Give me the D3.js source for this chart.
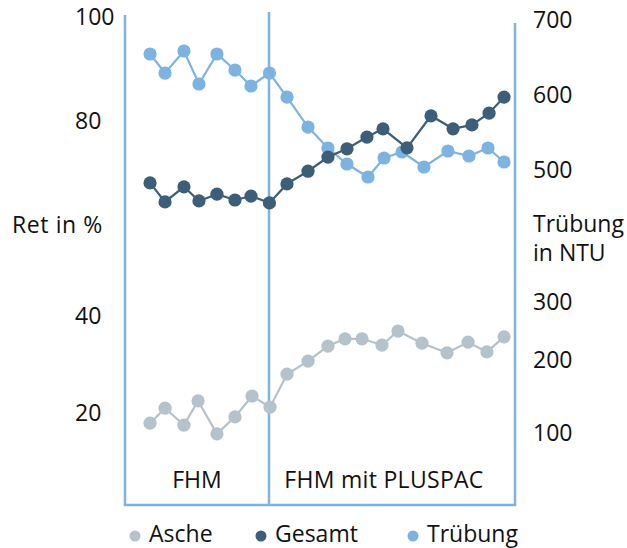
<!DOCTYPE html>
<html><head><meta charset="utf-8">
<script src="https://cdn.jsdelivr.net/npm/d3@7"></script>
<style>
html,body{margin:0;padding:0;background:#fff;}
text{font-family:"Open Sans","Noto Sans",sans-serif;fill:#111;}
</style></head>
<body>
<svg id="chart" width="627" height="548"></svg>
<script>
// ---- data ----
const seriesNames = ["Asche", "Gesamt", "Trübung"];
const phaseLabels = ["FHM", "FHM mit PLUSPAC"];
const phaseBoundary = 9.6;            // sample time where PLUSPAC starts
const leftTicks = [20, 40, 80, 100];   // Ret in %
const rightTicks = [100, 200, 300, 500, 600, 700]; // Trübung in NTU

const ascheT   = [1.67,2.67,3.93,4.87,6.13,7.33,8.47,9.67,10.8,12.2,13.53,14.67,15.8,17.13,18.2,19.8,21.47,22.87,24.13,25.27];
const ascheV   = [17.9,21.0,17.5,22.5,15.7,19.2,23.5,21.2,28.0,30.7,33.8,35.3,35.3,34.0,36.9,34.4,32.4,34.6,32.6,35.7];
const gesamtT  = [1.67,2.67,3.93,4.93,6.13,7.33,8.4,9.63,10.8,12.2,13.53,14.8,16.13,17.2,18.8,20.4,21.87,23.13,24.27,25.27];
const gesamtV  = [67.3,63.4,66.5,63.6,65.0,63.8,64.6,63.2,67.1,69.7,72.6,74.3,76.7,78.4,74.5,81.0,78.4,79.2,81.5,84.6];
const truebT   = [1.67,2.67,3.93,4.93,6.13,7.33,8.4,9.63,10.8,12.2,13.53,14.8,16.2,17.27,18.47,19.93,21.53,22.93,24.2,25.27];
const truebV   = [654.7,629.3,658.7,614.7,654.7,633.3,612.0,629.3,597.3,557.3,529.3,508.0,489.4,516.0,524.0,504.0,525.3,518.7,529.3,510.7];

const colAsche = "#b3c2cb", colGesamt = "#3c5e79", colTrueb = "#7db3e0", colFrame = "#7fb4e1";

// ---- scales ----
const svg = d3.select("#chart");
const x = d3.scaleLinear().domain([0, 26]).range([125, 515]);
const yL = d3.scaleLinear().domain([20, 40, 80, 100]).range([413, 316, 121, 17]);
const yR = d3.scaleLinear().domain([100, 200, 300, 500, 600, 700]).range([433, 360, 302, 170, 95, 20]);
const plotBottom = 505;

// ---- frame ----
const frame = svg.append("g").attr("stroke", colFrame).attr("stroke-width", 2.5).attr("fill", "none");
frame.append("line").attr("x1", x(0)).attr("x2", x(0)).attr("y1", 15).attr("y2", plotBottom);
frame.append("line").attr("x1", x(26)).attr("x2", x(26)).attr("y1", 23).attr("y2", plotBottom);
frame.append("line").attr("x1", x(0) - 1.25).attr("x2", x(26) + 1.25).attr("y1", plotBottom).attr("y2", plotBottom);
frame.append("line").attr("x1", x(phaseBoundary)).attr("x2", x(phaseBoundary)).attr("y1", 12).attr("y2", plotBottom);

// ---- axes ----
const axL = svg.append("g").attr("transform", "translate(75,0)")
  .call(d3.axisLeft(yL).tickValues(leftTicks).tickSize(0).tickPadding(0).tickFormat(d3.format("d")));
axL.select(".domain").remove();
axL.selectAll("text").attr("text-anchor", "start").attr("x", 0)
  .style("font-size", "23px").style("font-family", "'Open Sans'").attr("fill", "#111");

const axR = svg.append("g").attr("transform", "translate(533,0)")
  .call(d3.axisRight(yR).tickValues(rightTicks).tickSize(0).tickPadding(0).tickFormat(d3.format("d")));
axR.select(".domain").remove();
axR.selectAll("text").attr("x", 0)
  .style("font-size", "23px").style("font-family", "'Open Sans'").attr("fill", "#111");

svg.append("text").attr("x", 12).attr("y", 233).style("font-size", "23px").style("letter-spacing", "0.6px").text("Ret in %");
svg.append("text").attr("x", 533).attr("y", 232).style("font-size", "23px").text("Trübung");
svg.append("text").attr("x", 533).attr("y", 261).style("font-size", "23px").text("in NTU");

// phase labels
svg.append("text").attr("x", (x(0) + x(phaseBoundary)) / 2 + 0).attr("y", 488)
  .attr("text-anchor", "middle").style("font-size", "23px").text(phaseLabels[0]);
svg.append("text").attr("x", (x(phaseBoundary) + x(26)) / 2 - 8).attr("y", 488)
  .attr("text-anchor", "middle").style("font-size", "23px").style("letter-spacing", "0.3px").text(phaseLabels[1]);

// ---- series ----
function drawSeries(ts, vs, yScale, color) {
  const pts = ts.map((t, i) => [x(t), yScale(vs[i])]);
  const g = svg.append("g");
  g.append("path").attr("d", d3.line()(pts)).attr("fill", "none")
    .attr("stroke", color).attr("stroke-width", 2.2);
  g.selectAll("circle").data(pts).join("circle")
    .attr("cx", d => d[0]).attr("cy", d => d[1]).attr("r", 6.6).attr("fill", color);
}
drawSeries(ascheT, ascheV, yL, colAsche);
drawSeries(truebT, truebV, yR, colTrueb);
drawSeries(gesamtT, gesamtV, yL, colGesamt);

// ---- legend ----
const legendX = [135, 261, 413];
const legendCols = [colAsche, colGesamt, colTrueb];
const lg = svg.append("g");
seriesNames.forEach((n, i) => {
  lg.append("circle").attr("cx", legendX[i]).attr("cy", 536).attr("r", 5.5).attr("fill", legendCols[i]);
  lg.append("text").attr("x", legendX[i] + 14).attr("y", 542).style("font-size", "23px").text(n);
});
</script>
</body></html>
